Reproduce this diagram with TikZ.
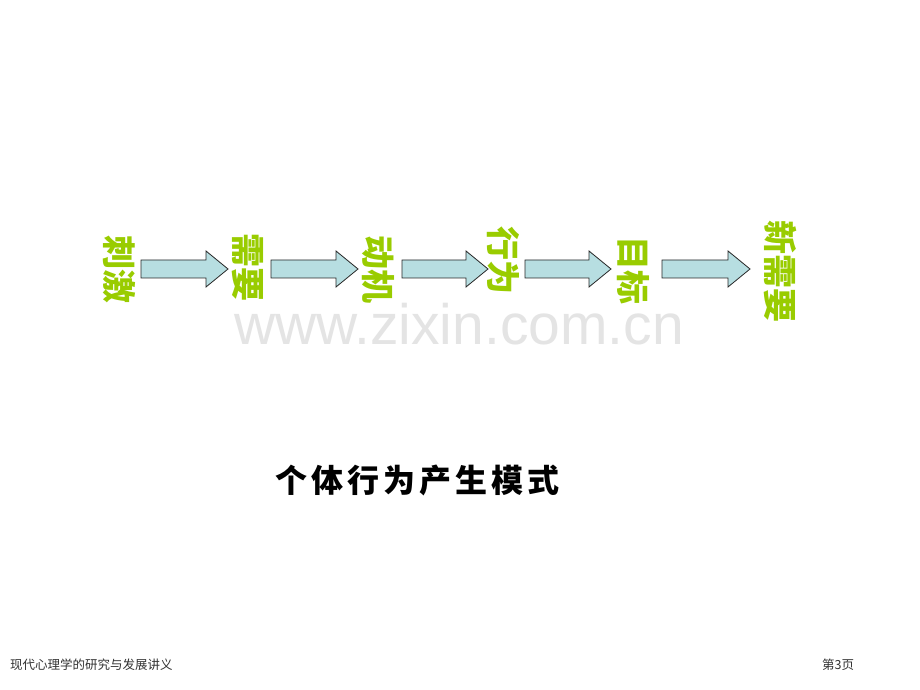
\documentclass[tikz,border=0pt]{standalone}
\usepackage{fontspec}
\newfontfamily\cjk{Noto Sans CJK SC}
\newfontfamily\wmfont{Liberation Sans}
\definecolor{stepgreen}{RGB}{153,204,0}
\definecolor{arrowfill}{RGB}{183,222,225}
\definecolor{arrowline}{RGB}{40,40,40}
\definecolor{wmgray}{RGB}{228,228,228}
\definecolor{footgray}{RGB}{50,50,50}
\newcommand{\blockarr}[3]{% name, x0, xtip (pt, image coords)
  \draw[arrowstyle] (#2pt,{(690-260)*1pt}) -- ({(#3-22)*1pt},{(690-260)*1pt}) -- ({(#3-22)*1pt},{(690-251)*1pt}) -- (#3pt,{(690-269)*1pt}) -- ({(#3-22)*1pt},{(690-287)*1pt}) -- ({(#3-22)*1pt},{(690-278)*1pt}) -- (#2pt,{(690-278)*1pt}) -- cycle;
  \coordinate (#1) at (#3pt,{(690-269)*1pt});}
\tikzset{
  arrowstyle/.style={fill=arrowfill, draw=arrowline, line width=0.8pt, line join=miter},
  steptext/.style={text=stepgreen, font=\cjk\bfseries\fontsize{34}{34}\selectfont, rotate=-90, inner sep=0pt},
}
\begin{document}
\begin{tikzpicture}[x=1pt,y=1pt]
\useasboundingbox (0,0) rectangle (920,690);
\fill[white] (0,0) rectangle (920,690);
% watermark
\node[text=wmgray, font=\wmfont\fontsize{57}{57}\selectfont, inner sep=0pt, anchor=base] (wm) at (459,{690-345}) {www.zixin.com.cn};
% step labels
\node[steptext] (s1) at (119,{690-270}) {刺激};
\node[steptext] (s2) at (248,{690-268}) {需要};
\node[steptext] (s3) at (378,{690-270}) {动机};
\node[steptext] (s4) at (503,{690-261}) {行为};
\node[steptext] (s5) at (633,{690-271}) {目标};
\node[steptext] (s6) at (780,{690-272}) {新需要};
% block arrows
\blockarr{a1}{141}{228}
\blockarr{a2}{271}{358}
\blockarr{a3}{402}{488}
\blockarr{a4}{525}{611}
\blockarr{a5}{662}{750}
% title
\node[font=\cjk\bfseries\fontsize{32}{32}\selectfont, inner sep=0pt] (title) at (417,{690-480})
  {个\hspace{4pt}体\hspace{4pt}行\hspace{4pt}为\hspace{4pt}产\hspace{4pt}生\hspace{4pt}模\hspace{4pt}式};
% footer
\node[font=\cjk\fontsize{12.5}{12.5}\selectfont, text=footgray, anchor=west, inner sep=0pt] (foot) at (10,{690-665}) {现代心理学的研究与发展讲义};
\node[font=\cjk\fontsize{12.5}{12.5}\selectfont, text=footgray, anchor=west, inner sep=0pt] (page) at (822,{690-665}) {第3页};
\end{tikzpicture}
\end{document}
